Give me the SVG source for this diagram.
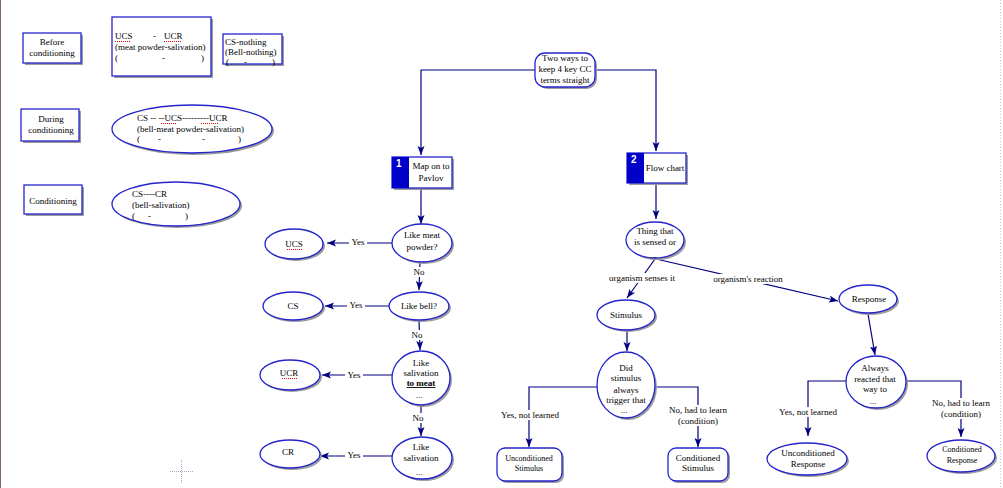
<svg xmlns="http://www.w3.org/2000/svg" width="1003" height="488" viewBox="0 0 1003 488">
<style>
text{font-family:"Liberation Serif","Times New Roman",serif;font-size:9px;fill:#000}
.c{text-anchor:middle}
.s8{font-size:8px}
.n{fill:#fff;stroke:#2424cc;stroke-width:1.3}
.sh{fill:#9c9c9c;stroke:none}
.e{fill:none;stroke:#000080;stroke-width:1.2}
.lb{fill:#fff;stroke:none}
.sp{stroke:#e00000;stroke-width:1;stroke-dasharray:1,1;fill:none}
.num{font-family:"Liberation Sans",Arial,sans-serif;font-size:10px;font-weight:bold;fill:#fff}
</style>
<defs>
<marker id="ah" markerUnits="userSpaceOnUse" markerWidth="10" markerHeight="8" refX="9" refY="3.5" orient="auto">
<path d="M0,0 L9,3.5 L0,7 L2,3.5 z" fill="#000080"/>
</marker>
</defs>
<rect width="1003" height="488" fill="#fff"/>
<line x1="0.5" y1="0" x2="0.5" y2="488" stroke="#806080" stroke-width="1"/>
<line x1="1000.5" y1="0" x2="1000.5" y2="488" stroke="#c4c4d4" stroke-width="1" stroke-dasharray="1,2"/>
<g stroke="#b0a8c0" stroke-width="1" stroke-dasharray="1,1">
<line x1="170" y1="471.5" x2="193" y2="471.5"/>
<line x1="181.5" y1="460" x2="181.5" y2="483"/>
</g>

<g id="connectors">
<polyline class="e" points="535,70 421,70 421,155" marker-end="url(#ah)"/>
<polyline class="e" points="595,70 656,70 656,151" marker-end="url(#ah)"/>
<line class="e" x1="421" y1="188" x2="421" y2="224" marker-end="url(#ah)"/>
<line class="e" x1="392" y1="243" x2="327" y2="243" marker-end="url(#ah)"/>
<rect class="lb" x="349" y="237" width="18" height="11"/>
<text class="c" x="358" y="245">Yes</text>
<line class="e" x1="420" y1="262" x2="419" y2="290" marker-end="url(#ah)"/>
<rect class="lb" x="412" y="267" width="14" height="10"/>
<text class="c" x="419" y="275">No</text>
<line class="e" x1="389" y1="306" x2="325" y2="306" marker-end="url(#ah)"/>
<rect class="lb" x="347" y="300" width="18" height="11"/>
<text class="c" x="356" y="308">Yes</text>
<line class="e" x1="419" y1="320" x2="420" y2="350" marker-end="url(#ah)"/>
<rect class="lb" x="410" y="330" width="14" height="10"/>
<text class="c" x="417" y="338">No</text>
<line class="e" x1="392" y1="375" x2="322" y2="375" marker-end="url(#ah)"/>
<rect class="lb" x="345" y="369" width="18" height="11"/>
<text class="c" x="354" y="378">Yes</text>
<line class="e" x1="421" y1="404" x2="421" y2="436" marker-end="url(#ah)"/>
<rect class="lb" x="411" y="413" width="14" height="10"/>
<text class="c" x="418" y="421">No</text>
<line class="e" x1="392" y1="456" x2="320" y2="456" marker-end="url(#ah)"/>
<rect class="lb" x="345" y="449" width="18" height="11"/>
<text class="c" x="354" y="458">Yes</text>

<line class="e" x1="656" y1="183" x2="656" y2="219" marker-end="url(#ah)"/>
<line class="e" x1="655" y1="259" x2="627" y2="298" marker-end="url(#ah)"/>
<rect class="lb" x="609" y="273" width="66" height="10"/>
<text class="c" x="642" y="281">organism senses it</text>
<line class="e" x1="656" y1="259" x2="838" y2="301" marker-end="url(#ah)"/>
<rect class="lb" x="713" y="274" width="70" height="10"/>
<text class="c" x="748" y="282">organism's reaction</text>
<line class="e" x1="627" y1="330" x2="627" y2="351" marker-end="url(#ah)"/>
<polyline class="e" points="597,387 529,387 529,447" marker-end="url(#ah)"/>
<rect class="lb" x="498" y="410" width="62" height="10"/>
<text class="c" x="530" y="418">Yes, not learned</text>
<polyline class="e" points="655,387 698,387 698,447" marker-end="url(#ah)"/>
<rect class="lb" x="667" y="405" width="62" height="21"/>
<text class="c" x="698" y="413">No, had to learn</text>
<text class="c" x="698" y="424">(condition)</text>

<line class="e" x1="868" y1="314" x2="875" y2="355" marker-end="url(#ah)"/>
<polyline class="e" points="846,381 808,381 808,436" marker-end="url(#ah)"/>
<rect class="lb" x="777" y="407" width="62" height="10"/>
<text class="c" x="808" y="415">Yes, not learned</text>
<polyline class="e" points="906,381 961,381 961,437" marker-end="url(#ah)"/>
<rect class="lb" x="930" y="398" width="62" height="21"/>
<text class="c" x="961" y="406">No, had to learn</text>
<text class="c" x="961" y="417">(condition)</text>
</g>

<g id="before-conditioning">
<rect class="sh" x="25" y="35" width="58" height="30"/>
<rect class="n" x="23" y="33" width="58" height="30"/>
<text class="c" x="52" y="45">Before</text>
<text class="c" x="52" y="56">conditioning</text>
</g>
<g id="ucs-ucr">
<rect class="sh" x="114" y="19" width="99" height="59"/>
<rect class="n" x="112" y="17" width="99" height="59"/>
<text x="115" y="39">UCS</text><text x="153" y="39">-</text><text x="164" y="39">UCR</text>
<text x="115" y="50">(meat powder-salivation)</text>
<text x="115" y="61">(</text><text x="162" y="61">-</text><text x="201" y="61">)</text>
<path class="sp" d="M115,41.5 H131 M164,41.5 H181"/>
</g>
<g id="cs-nothing">
<rect class="sh" x="225" y="36" width="59" height="30"/>
<rect class="n" x="223" y="34" width="59" height="30"/>
<text x="225" y="45">CS-nothing</text>
<text x="225" y="55">(Bell-nothing)</text>
<text x="226" y="65">(</text><text x="244" y="65">-</text><text x="272" y="65">)</text>
</g>
<g id="during-conditioning">
<rect class="sh" x="23" y="111" width="58" height="32"/>
<rect class="n" x="21" y="109" width="58" height="32"/>
<text class="c" x="51" y="122">During</text>
<text class="c" x="51" y="133">conditioning</text>
</g>
<g id="cs-ucs-ucr">
<ellipse class="sh" cx="194" cy="131" rx="80" ry="24"/>
<ellipse class="n" cx="192" cy="129" rx="80" ry="24"/>
<text x="137" y="121">CS -- --UCS---------UCR</text>
<text x="137" y="132">(bell-meat powder-salivation)</text>
<text x="137" y="142">(</text><text x="158" y="142">-</text><text x="202" y="142">-</text><text x="238" y="142">)</text>
<path class="sp" d="M161,123.5 H177 M201,123.5 H218"/>
</g>
<g id="conditioning">
<rect class="sh" x="26" y="187" width="58" height="29"/>
<rect class="n" x="24" y="185" width="58" height="29"/>
<text class="c" x="53" y="204">Conditioning</text>
</g>
<g id="cs-cr">
<ellipse class="sh" cx="178" cy="206" rx="64" ry="22"/>
<ellipse class="n" cx="176" cy="204" rx="64" ry="22"/>
<text x="132" y="197">CS----CR</text>
<text x="132" y="208">(bell-salivation)</text>
<text x="132" y="219">(</text><text x="148" y="219">-</text><text x="185" y="219">)</text>
</g>

<g id="root">
<rect class="sh" x="537" y="55" width="60" height="34" rx="10"/>
<rect class="n" x="535" y="53" width="60" height="34" rx="10"/>
<text class="c" x="565" y="61">Two ways to</text>
<text class="c" x="565" y="72">keep 4 key CC</text>
<text class="c" x="565" y="83">terms straight</text>
</g>
<g id="map-pavlov">
<rect class="sh" x="394" y="159" width="60" height="31"/>
<rect class="n" x="392" y="157" width="60" height="31"/>
<rect x="392" y="157" width="17" height="31" fill="#0000c8"/>
<text class="num" x="396" y="167">1</text>
<text class="c" x="431" y="169">Map on to</text>
<text class="c" x="431" y="181">Pavlov</text>
</g>
<g id="flow-chart">
<rect class="sh" x="629" y="155" width="59" height="30"/>
<rect class="n" x="627" y="153" width="59" height="30"/>
<rect x="627" y="153" width="17" height="30" fill="#0000c8"/>
<text class="num" x="631" y="163">2</text>
<text class="c" x="665" y="171">Flow chart</text>
</g>

<g id="like-meat">
<ellipse class="sh" cx="424" cy="245" rx="30" ry="19"/>
<ellipse class="n" cx="422" cy="243" rx="30" ry="19"/>
<text class="c" x="422" y="238">Like meat</text>
<text class="c" x="422" y="250">powder?</text>
</g>
<g id="ucs">
<ellipse class="sh" cx="296" cy="246" rx="29" ry="15"/>
<ellipse class="n" cx="294" cy="244" rx="29" ry="15"/>
<text class="c" x="294" y="247">UCS</text>
<path class="sp" d="M287,249.5 H302"/>
</g>
<g id="like-bell">
<ellipse class="sh" cx="421" cy="308" rx="30" ry="14"/>
<ellipse class="n" cx="419" cy="306" rx="30" ry="14"/>
<text class="c" x="419" y="309">Like bell?</text>
</g>
<g id="cs">
<ellipse class="sh" cx="295" cy="308" rx="30" ry="14"/>
<ellipse class="n" cx="293" cy="306" rx="30" ry="14"/>
<text class="c" x="293" y="309">CS</text>
</g>
<g id="like-salivation-meat">
<ellipse class="sh" cx="423" cy="380" rx="29" ry="27"/>
<ellipse class="n" cx="421" cy="378" rx="29" ry="27"/>
<text class="c" x="421" y="366">Like</text>
<text class="c" x="421" y="376">salivation</text>
<text class="c" x="421" y="386" font-weight="bold" text-decoration="underline">to meat</text>
<text class="c" x="419" y="398">...</text>
</g>
<g id="ucr">
<ellipse class="sh" cx="292" cy="377" rx="30" ry="15"/>
<ellipse class="n" cx="290" cy="375" rx="30" ry="15"/>
<text class="c" x="289" y="376">UCR</text>
<path class="sp" d="M282,378.5 H297"/>
</g>
<g id="like-salivation">
<ellipse class="sh" cx="424" cy="460" rx="30" ry="21"/>
<ellipse class="n" cx="422" cy="458" rx="30" ry="21"/>
<text class="c" x="421" y="450">Like</text>
<text class="c" x="421" y="461">salivation</text>
<text class="c" x="419" y="475">...</text>
</g>
<g id="cr">
<ellipse class="sh" cx="292" cy="456" rx="30" ry="14"/>
<ellipse class="n" cx="290" cy="454" rx="30" ry="14"/>
<text class="c" x="288" y="455">CR</text>
</g>

<g id="thing-sensed">
<ellipse class="sh" cx="657" cy="242" rx="29" ry="18"/>
<ellipse class="n" cx="655" cy="240" rx="29" ry="18"/>
<text class="c" x="655" y="234">Thing that</text>
<text class="c" x="655" y="245">is sensed or</text>
<text class="c" x="653" y="258">...</text>
</g>
<g id="stimulus">
<ellipse class="sh" cx="628" cy="317" rx="29" ry="15"/>
<ellipse class="n" cx="626" cy="315" rx="29" ry="15"/>
<text class="c" x="626" y="318">Stimulus</text>
</g>
<g id="response">
<ellipse class="sh" cx="870" cy="301" rx="29" ry="14"/>
<ellipse class="n" cx="868" cy="299" rx="29" ry="14"/>
<text class="c" x="869" y="302">Response</text>
</g>
<g id="did-stimulus">
<ellipse class="sh" cx="628" cy="387" rx="29" ry="33"/>
<ellipse class="n" cx="626" cy="385" rx="29" ry="33"/>
<text class="c" x="626" y="371">Did</text>
<text class="c" x="626" y="381">stimulus</text>
<text class="c" x="626" y="393">always</text>
<text class="c" x="626" y="403">trigger that</text>
<text class="c" x="624" y="413">...</text>
</g>
<g id="always-reacted">
<ellipse class="sh" cx="878" cy="384" rx="30" ry="26"/>
<ellipse class="n" cx="876" cy="382" rx="30" ry="26"/>
<text class="c" x="875" y="371">Always</text>
<text class="c" x="875" y="382">reacted that</text>
<text class="c" x="875" y="392">way to</text>
<text class="c" x="873" y="404">...</text>
</g>
<g id="unconditioned-stimulus">
<rect class="sh" x="499" y="450" width="65" height="33" rx="8"/>
<rect class="n" x="497" y="448" width="65" height="33" rx="8"/>
<text class="c s8" x="529" y="461">Unconditioned</text>
<text class="c s8" x="529" y="471">Stimulus</text>
</g>
<g id="conditioned-stimulus">
<rect class="sh" x="670" y="450" width="60" height="33" rx="8"/>
<rect class="n" x="668" y="448" width="60" height="33" rx="8"/>
<text class="c" x="698" y="461">Conditioned</text>
<text class="c" x="698" y="471">Stimulus</text>
</g>
<g id="unconditioned-response">
<ellipse class="sh" cx="809" cy="461" rx="40" ry="16"/>
<ellipse class="n" cx="807" cy="459" rx="40" ry="16"/>
<text class="c" x="808" y="456">Unconditioned</text>
<text class="c" x="808" y="467">Response</text>
</g>
<g id="conditioned-response">
<ellipse class="sh" cx="963" cy="458" rx="34" ry="16"/>
<ellipse class="n" cx="961" cy="456" rx="34" ry="16"/>
<text class="c s8" x="962" y="452">Conditioned</text>
<text class="c s8" x="962" y="463">Response</text>
</g>
</svg>
